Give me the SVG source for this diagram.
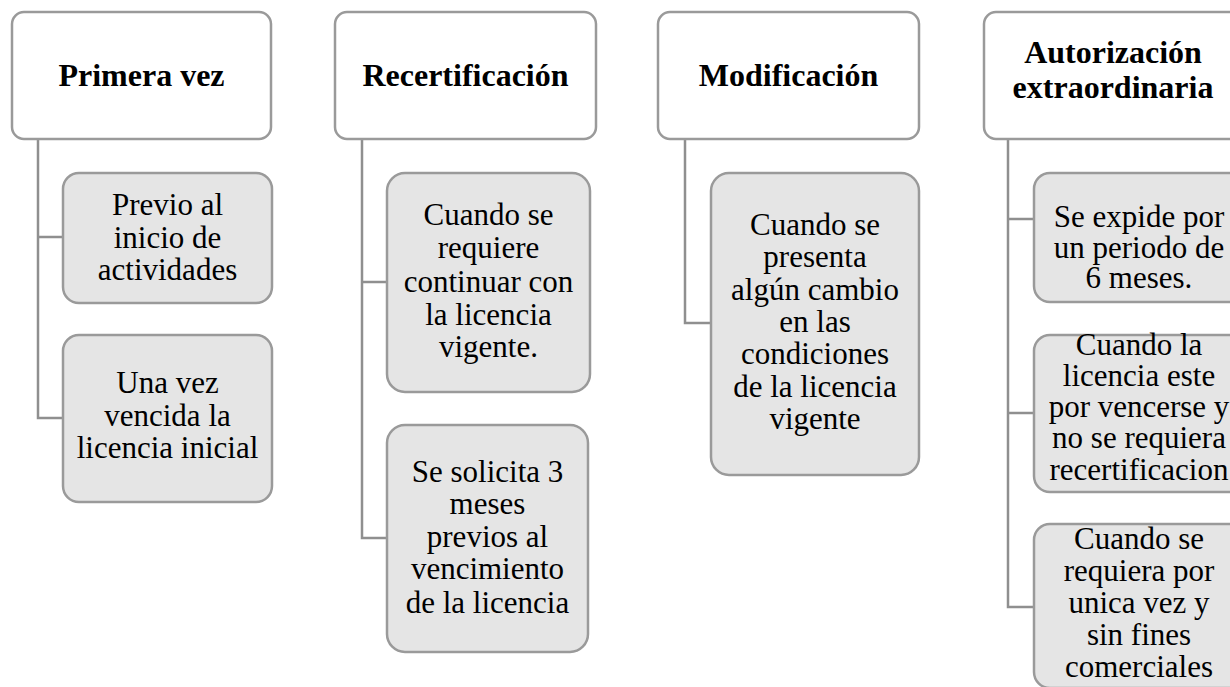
<svg xmlns="http://www.w3.org/2000/svg" width="1230" height="687" viewBox="0 0 1230 687">
<style>
.head{fill:#ffffff;stroke:#9a9a9a;stroke-width:2.5}
.child{fill:#e5e5e5;stroke:#9a9a9a;stroke-width:2.5}
.conn{fill:none;stroke:#8f8f8f;stroke-width:2.5}
.ht{font-family:"Liberation Serif","Times New Roman",serif;font-weight:bold;font-size:32px;fill:#000;text-anchor:middle}
.ct{font-family:"Liberation Serif","Times New Roman",serif;font-size:31px;fill:#000;text-anchor:middle}
</style>
<rect width="1230" height="687" fill="#ffffff"/>
<g id="connectors">
<path class="conn" d="M38,139 V418 H63 M38,237 H63"/>
<path class="conn" d="M362,139 V538 H387 M362,282 H387"/>
<path class="conn" d="M685,139 V323 H711"/>
<path class="conn" d="M1008,139 V607 H1034 M1008,219 H1034 M1008,413 H1034"/>
</g>
<g id="h1"><rect class="head" x="12" y="12" width="259" height="127" rx="12"/><text class="ht" x="141.5" y="86">Primera vez</text></g>
<g id="h2"><rect class="head" x="335" y="12" width="261" height="127" rx="12"/><text class="ht" x="465.5" y="86">Recertificación</text></g>
<g id="h3"><rect class="head" x="658" y="12" width="261" height="127" rx="12"/><text class="ht" x="788.5" y="86">Modificación</text></g>
<g id="h4"><rect class="head" x="984" y="12" width="260" height="127" rx="12"/><text class="ht" x="1113" y="63">Autorización</text><text class="ht" x="1113" y="98">extraordinaria</text></g>
<g id="c1a"><rect class="child" x="63" y="173" width="209" height="130" rx="16"/><text class="ct" x="167.5" y="215">Previo al</text><text class="ct" x="167.5" y="248">inicio de</text><text class="ct" x="167.5" y="280">actividades</text></g>
<g id="c1b"><rect class="child" x="63" y="335" width="209" height="167" rx="16"/><text class="ct" x="167.5" y="393">Una vez</text><text class="ct" x="167.5" y="426">vencida la</text><text class="ct" x="167.5" y="458">licencia inicial</text></g>
<g id="c2a"><rect class="child" x="387" y="173" width="203" height="219" rx="18"/><text class="ct" x="488.5" y="225">Cuando se</text><text class="ct" x="488.5" y="258">requiere</text><text class="ct" x="488.5" y="292">continuar con</text><text class="ct" x="488.5" y="325">la licencia</text><text class="ct" x="488.5" y="357">vigente.</text></g>
<g id="c2b"><rect class="child" x="387" y="425" width="201" height="227" rx="18"/><text class="ct" x="487.5" y="482">Se solicita 3</text><text class="ct" x="487.5" y="514">meses</text><text class="ct" x="487.5" y="547">previos al</text><text class="ct" x="487.5" y="579">vencimiento</text><text class="ct" x="487.5" y="613">de la licencia</text></g>
<g id="c3a"><rect class="child" x="711" y="173" width="208" height="302" rx="18"/><text class="ct" x="815" y="235">Cuando se</text><text class="ct" x="815" y="267">presenta</text><text class="ct" x="815" y="300">algún cambio</text><text class="ct" x="815" y="332">en las</text><text class="ct" x="815" y="364">condiciones</text><text class="ct" x="815" y="397">de la licencia</text><text class="ct" x="815" y="429">vigente</text></g>
<g id="c4a"><rect class="child" x="1034" y="173" width="210" height="129" rx="16"/><text class="ct" x="1139" y="227">Se expide por</text><text class="ct" x="1139" y="258">un periodo de</text><text class="ct" x="1139" y="288">6 meses.</text></g>
<g id="c4b"><rect class="child" x="1034" y="335" width="210" height="157" rx="16"/><text class="ct" x="1139" y="355">Cuando la</text><text class="ct" x="1139" y="386">licencia este</text><text class="ct" x="1139" y="417">por vencerse y</text><text class="ct" x="1139" y="448">no se requiera</text><text class="ct" x="1139" y="480">recertificacion</text></g>
<g id="c4c"><rect class="child" x="1034" y="524" width="210" height="164" rx="16"/><text class="ct" x="1139" y="549">Cuando se</text><text class="ct" x="1139" y="581">requiera por</text><text class="ct" x="1139" y="613">unica vez y</text><text class="ct" x="1139" y="645">sin fines</text><text class="ct" x="1139" y="677">comerciales</text></g>
</svg>
